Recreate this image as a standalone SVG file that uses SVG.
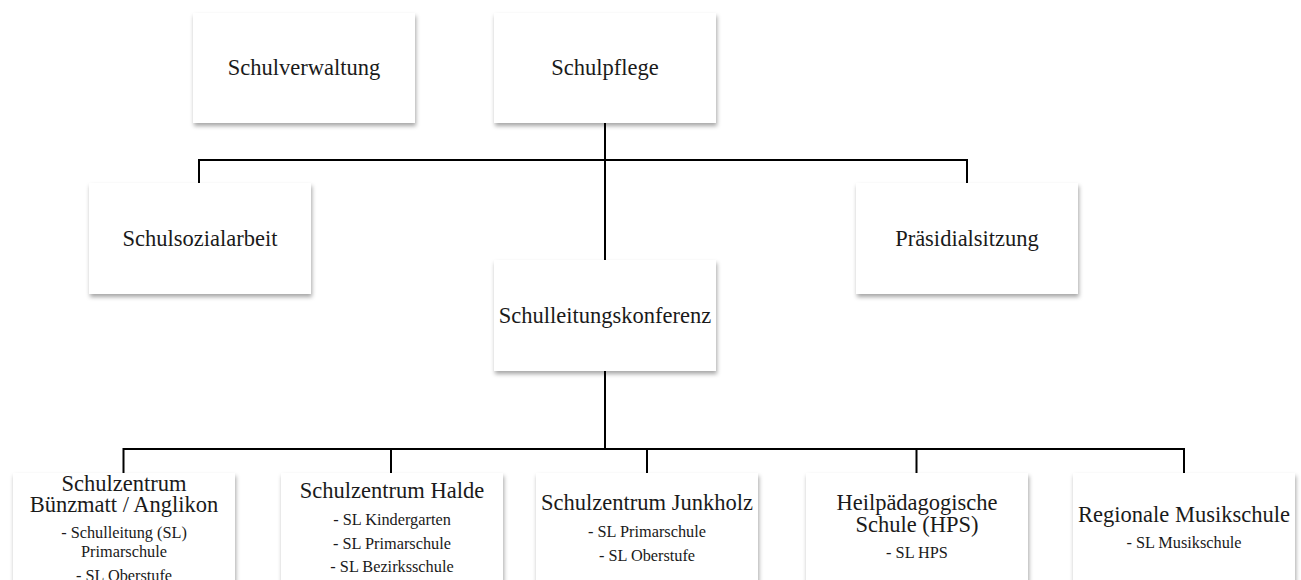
<svg xmlns="http://www.w3.org/2000/svg" width="1301" height="580" viewBox="0 0 1301 580">
<defs>
<filter id="sh" x="-10%" y="-10%" width="125%" height="130%">
<feDropShadow dx="1" dy="3" stdDeviation="2" flood-color="#000" flood-opacity="0.35"/>
</filter>
</defs>
<style>
.box{fill:#fff;filter:url(#sh)}
.t{font-family:"Liberation Serif","Times New Roman",serif;font-size:22.5px;fill:#1a1a1a;text-anchor:middle}
.s{font-family:"Liberation Serif","Times New Roman",serif;font-size:16.3px;fill:#1a1a1a;text-anchor:middle}
.c{fill:none;stroke:#000;stroke-width:2}
</style>
<rect width="1301" height="580" fill="#fff"/>
<g id="connectors">
<path class="c" d="M605 123V260"/>
<path class="c" d="M199 183V160H967V183"/>
<path class="c" d="M605 371V449"/>
<path class="c" d="M123.5 474V449H1184V474"/>
<path class="c" d="M391 449V474M647 449V474M916.5 449V474"/>
</g>
<g id="schulverwaltung">
<rect class="box" x="193" y="13" width="222" height="110"/>
<text class="t" x="304" y="75">Schulverwaltung</text>
</g>
<g id="schulpflege">
<rect class="box" x="494" y="13" width="222" height="110"/>
<text class="t" x="605" y="75">Schulpflege</text>
</g>
<g id="schulsozialarbeit">
<rect class="box" x="89" y="183" width="222" height="111"/>
<text class="t" x="200" y="246">Schulsozialarbeit</text>
</g>
<g id="praesidialsitzung">
<rect class="box" x="856" y="183" width="222" height="111"/>
<text class="t" x="967" y="246">Präsidialsitzung</text>
</g>
<g id="schulleitungskonferenz">
<rect class="box" x="494" y="260" width="222" height="111"/>
<text class="t" x="605" y="323">Schulleitungskonferenz</text>
</g>
<g id="buenzmatt">
<rect class="box" x="13" y="473" width="222" height="130"/>
<text class="t" x="124" y="491">Schulzentrum</text>
<text class="t" x="124" y="511.5">Bünzmatt / Anglikon</text>
<text class="s" x="124" y="537.5">- Schulleitung (SL)</text>
<text class="s" x="124" y="556.5">Primarschule</text>
<text class="s" x="124" y="581">- SL Oberstufe</text>
</g>
<g id="halde">
<rect class="box" x="281" y="473" width="222" height="130"/>
<text class="t" x="392" y="497.5">Schulzentrum Halde</text>
<text class="s" x="392" y="524.5">- SL Kindergarten</text>
<text class="s" x="392" y="548.5">- SL Primarschule</text>
<text class="s" x="392" y="572">- SL Bezirksschule</text>
</g>
<g id="junkholz">
<rect class="box" x="536" y="473" width="222" height="130"/>
<text class="t" x="647" y="510">Schulzentrum Junkholz</text>
<text class="s" x="647" y="537">- SL Primarschule</text>
<text class="s" x="647" y="561">- SL Oberstufe</text>
</g>
<g id="hps">
<rect class="box" x="806" y="473" width="222" height="130"/>
<text class="t" x="917" y="510">Heilpädagogische</text>
<text class="t" x="917" y="531.5">Schule (HPS)</text>
<text class="s" x="917" y="558">- SL HPS</text>
</g>
<g id="musikschule">
<rect class="box" x="1073" y="473" width="222" height="130"/>
<text class="t" x="1184" y="521.5">Regionale Musikschule</text>
<text class="s" x="1184" y="548">- SL Musikschule</text>
</g>
</svg>
